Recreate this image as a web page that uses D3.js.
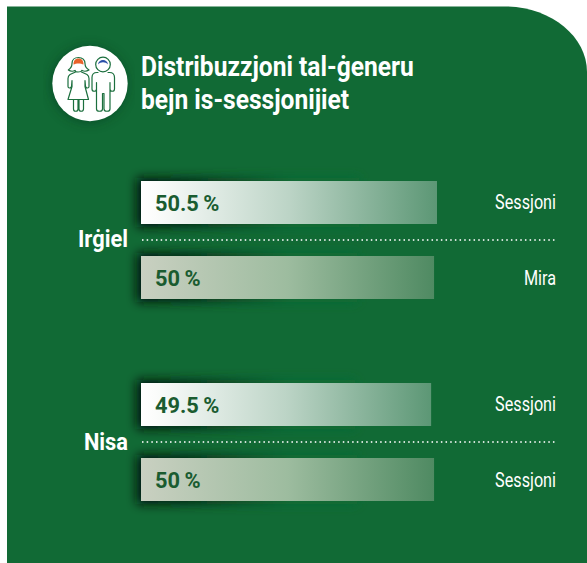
<!DOCTYPE html>
<html>
<head>
<meta charset="utf-8">
<script src="https://cdn.jsdelivr.net/npm/d3@7"></script>
<style>
  html, body { margin: 0; padding: 0; background: #fff; }
  svg { display: block; }
  text { font-family: Roboto, "Noto Sans", sans-serif; }
</style>
</head>
<body>
<div id="chart"></div>
<script>
var titleLines = ["Distribuzzjoni tal-ġeneru", "bejn is-sessjonijiet"];
var groups = ["Irġiel", "Nisa"];
var values = [[50.5, 50], [49.5, 50]];
var sources = [["Sessjoni", "Mira"], ["Sessjoni", "Sessjoni"]];

var width = 587, height = 563;
var barLeft = 141, dotsRight = 556;

var svg = d3.select("#chart").append("svg")
    .attr("width", width)
    .attr("height", height);

var defs = svg.append("defs");

// first bar of each group is bright, second one is dimmer
function addGradient(id, stops) {
  var g = defs.append("linearGradient").attr("id", id);
  stops.forEach(function(s) {
    g.append("stop").attr("offset", s[0]).attr("stop-color", s[1]);
  });
}
addGradient("bright", [[0, "#ffffff"], [0.05, "#fbfcfb"], [0.5, "#bcd4c6"], [1, "#5c9775"]]);
addGradient("dim", [[0, "#c9d0c1"], [0.5, "#9dbc9f"], [1, "#4f8a62"]]);
addGradient("shadowFade", [[0, "#020f08"], [0.3, "#06301a"], [0.7, "#116a35"]]);

defs.append("filter").attr("id", "blur")
    .attr("x", "-10%").attr("y", "-60%").attr("width", "120%").attr("height", "220%")
  .append("feGaussianBlur").attr("stdDeviation", 5.5);

// panel with the big rounded corner top right
var panelPath = d3.path();
panelPath.moveTo(7, 6.5);
panelPath.lineTo(505, 6.5);
panelPath.bezierCurveTo(550, 6.5, 587, 36, 587, 72);
panelPath.lineTo(587, 563);
panelPath.lineTo(7, 563);
panelPath.closePath();
svg.append("path")
    .attr("d", panelPath.toString())
    .attr("fill", "#116a35");

// scales
var x = d3.scaleLinear().domain([0, 50.5]).range([0, 296]);
var yGroup = d3.scalePoint().domain(groups).range([240, 442]);
var yBar = d3.scaleBand().domain([0, 1]).range([-59, 59]).paddingInner(0.4267);

// squeezed text, the original face is narrower than anything installed
function squeezed(parent, str, px, py, size, weight, fill, sx, anchor) {
  return parent.append("text")
      .attr("transform", "translate(" + px + "," + py + ") scale(" + sx + ",1)")
      .attr("text-anchor", anchor || "start")
      .attr("font-size", size)
      .attr("font-weight", weight)
      .attr("fill", fill)
      .text(str);
}

// icon
var icon = svg.append("g").attr("transform", "translate(90,83.5)");
icon.append("circle").attr("cx", -1).attr("cy", 1).attr("r", 38)
    .attr("fill", "#06301a").attr("opacity", 0.5).attr("filter", "url(#blur)");
icon.append("circle").attr("r", 37.7).attr("fill", "#fff");
var stroke = "#1c6f3e";
function part(d, fill) {
  icon.append("path").attr("d", d)
      .attr("fill", fill || "none")
      .attr("stroke", fill ? "none" : stroke)
      .attr("stroke-width", 1.2)
      .attr("stroke-linejoin", "round")
      .attr("stroke-linecap", "round");
}
// girl
part("M-16.5,-19 C-16.5,-23 -14.5,-25 -11.5,-25 C-8.5,-25 -6.5,-23 -6.5,-19 C-9,-20.5 -14,-20.5 -16.5,-19 Z", "#e8622a");
part("M-11.5,-26 C-15.5,-26 -18,-23.5 -18,-20 C-18,-17 -19.5,-15 -21.7,-13.5 C-19.5,-12 -17,-12 -15,-13 M-11.5,-26 C-7.5,-26 -5,-23.5 -5,-20 C-5,-17 -3.5,-15 -1,-13.5 C-3.5,-12 -6,-12 -8,-13");
part("M-15,-13 C-15,-11 -9,-11 -8,-13");
part("M-14.5,-11.5 L-20,-9 C-21.5,-8 -22,-7 -22,-5 L-22,3 C-22,5 -19,5 -18.5,3 L-18,-3 L-18,3 L-22,16 L-1.5,16 L-5,3 L-5,-3 L-4.5,3 C-4,5 -1,5 -1,3 L-1,-5 C-1,-7 -1.5,-8 -3,-9 L-8.5,-11.5");
part("M-16.5,16 L-16.5,25.5 C-16.5,28.5 -12,28.5 -12,25.5 L-12,16 M-11,16 L-11,25.5 C-11,28.5 -6.5,28.5 -6.5,25.5 L-6.5,16");
// boy
icon.append("circle").attr("cx", 13).attr("cy", -19).attr("r", 7.3)
    .attr("fill", "none").attr("stroke", stroke).attr("stroke-width", 1.2);
part("M8,-19 C8.5,-25 17.5,-25 18,-19 C15.5,-22 10.5,-22 8,-19 Z", "#2a4fa8");
part("M8,-11 L7,-11 C4,-11 2,-9 2,-6 L2,5.5 C2,8.5 6.5,8.5 6.5,5.5 L6.5,-1 L6.5,25.5 C6.5,28.5 12.5,28.5 12.5,25.5 L12.5,10 L14,10 L14,25.5 C14,28.5 20,28.5 20,25.5 L20,-1 L20,5.5 C20,8.5 24.5,8.5 24.5,5.5 L24.5,-6 C24.5,-9 22.5,-11 19.5,-11 L18,-11");

// title
titleLines.forEach(function(line, i) {
  squeezed(svg, line, 141, 76 + i * 32.5, 27, 700, "#fff", 0.91);
});

// bars
groups.forEach(function(group, i) {
  var y0 = yGroup(group);

  squeezed(svg, group, 128, y0 + (i === 0 ? 6.5 : 8), 23, 700, "#fff", 0.95, "end");

  // dotted separator
  svg.append("line")
      .attr("x1", barLeft + 1)
      .attr("x2", dotsRight)
      .attr("y1", y0)
      .attr("y2", y0)
      .attr("stroke", "#cfe0d6")
      .attr("stroke-width", 1.8)
      .attr("stroke-dasharray", "1.5 3.17");

  var row = svg.append("g").selectAll("g")
    .data(values[i])
    .enter().append("g")
      .attr("transform", function(d, j) { return "translate(" + barLeft + "," + (y0 + yBar(j)) + ")"; });

  row.append("rect")
      .attr("x", -4)
      .attr("y", -3)
      .attr("width", function(d) { return x(d) * 0.75; })
      .attr("height", yBar.bandwidth() + 6)
      .attr("fill", "url(#shadowFade)")
      .attr("filter", "url(#blur)");

  row.append("rect")
      .attr("width", function(d) { return x(d); })
      .attr("height", yBar.bandwidth())
      .attr("fill", function(d, j) { return j === 0 ? "url(#bright)" : "url(#dim)"; });

  row.each(function(d, j) {
    var g = d3.select(this), mid = yBar.bandwidth() / 2;
    squeezed(g, d + "\u2009%", 14, mid + 8.5, 22.5, 700, "#1a5c30", 0.97);
    squeezed(g, sources[i][j], dotsRight - barLeft, mid + 7, 20, 400, "#fff", 0.81, "end");
  });
});
</script>
</body>
</html>
